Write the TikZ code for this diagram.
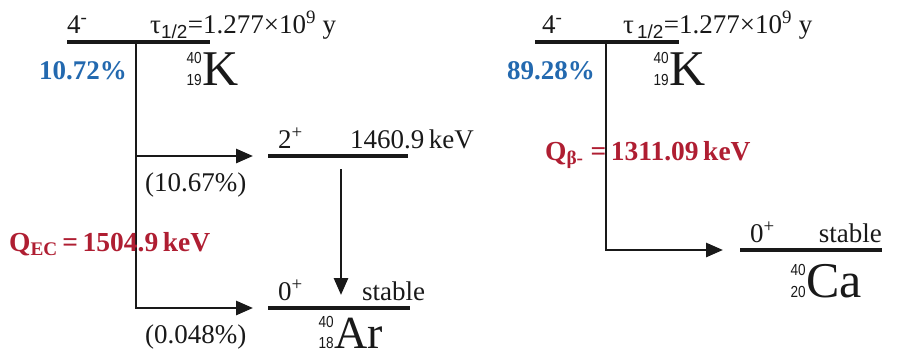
\documentclass[tikz,border=0pt]{standalone}
\usepackage{fontspec}
\setmainfont{Liberation Serif}
\setsansfont{Liberation Sans}
\usetikzlibrary{arrows.meta}
\definecolor{ink}{RGB}{25,25,25}
\definecolor{qblue}{RGB}{35,105,175}
\definecolor{qred}{RGB}{175,30,50}
\newcommand\nz[1]{\scalebox{0.85}[1]{#1}}
\begin{document}
\begin{tikzpicture}[x=1pt,y=-1pt,
 txt/.style={inner sep=0pt, text=ink, font=\fontsize{27}{30}\selectfont},
 lvl/.style={line width=3.2pt, draw=ink},
 arr/.style={line width=2.8pt, draw=ink, -{Triangle[length=17pt,width=14pt]}},
 nuc/.style={inner sep=0pt, text depth=0pt, text=ink, font=\fontsize{50}{54}\selectfont},
 zn/.style={inner sep=0pt, text=ink, font=\sffamily\fontsize{16}{17}\selectfont},
 pct/.style={inner sep=0pt, text=qblue, font=\bfseries\fontsize{27}{30}\selectfont},
 qv/.style={inner sep=0pt, text=qred, font=\bfseries\fontsize{27.5}{30}\selectfont}]
\useasboundingbox (0,0) rectangle (898,359);
% ---------- left: EC branch ----------
\coordinate (kLa) at (67,42);
\coordinate (kLb) at (210,42);
\coordinate (kLv) at (136,42);
\coordinate (bL1) at (136,156);
\coordinate (eL1) at (253,156);
\coordinate (eL2) at (253,308);
\coordinate (l2a) at (268,156);
\coordinate (l2b) at (408,156);
\coordinate (l0a) at (268,308);
\coordinate (l0b) at (410,308);
\coordinate (g1) at (341,169);
\coordinate (g2) at (341,295);
\draw[lvl] (kLa) -- (kLb);
\draw[lvl] (l2a) -- (l2b);
\draw[lvl] (l0a) -- (l0b);
\draw[arr] (kLv) |- (eL2);
\draw[arr] (bL1) -- (eL1);
\draw[arr] (g1) -- (g2);
\node[txt, anchor=base west] (jL) at (67,33) {4\textsuperscript{-}};
\node[txt, anchor=base west] (tL) at (150,33) {τ\textsubscript{\sffamily 1/2}=1.277×10\textsuperscript{9} y};
\node[pct, anchor=base east] (pL) at (127,79) {10.72\%};
\node[zn, anchor=base east] (kLA) at (202,63) {\nz{40}};
\node[zn, anchor=base east] (kLZ) at (202,85) {\nz{19}};
\node[nuc, anchor=base west] (kL) at (202,85) {K};
\node[txt, anchor=base west] (j2) at (278,148) {2\textsuperscript{+}};
\node[txt, anchor=base west] (e2) at (350,148) {1460.9\,keV};
\node[txt, anchor=base west] (p1) at (145,191) {(10.67\%)};
\node[txt, anchor=base west] (j0) at (278,300) {0\textsuperscript{+}};
\node[txt, anchor=base west] (s0) at (362,300) {stable};
\node[txt, anchor=base west] (p2) at (145,343) {(0.048\%)};
\node[zn, anchor=base east] (arA) at (334,327) {\nz{40}};
\node[zn, anchor=base east] (arZ) at (334,348) {\nz{18}};
\node[nuc, anchor=base west, font=\fontsize{46}{50}\selectfont] (ar) at (334,348) {Ar};
\node[qv, anchor=base west] (qec) at (9,251) {Q\textsubscript{EC}\,=\,1504.9\,keV};
% ---------- right: beta- branch ----------
\coordinate (kRa) at (535,42);
\coordinate (kRb) at (679,42);
\coordinate (kRv) at (606,42);
\coordinate (eR) at (723,250);
\coordinate (caa) at (740,250);
\coordinate (cab) at (882,250);
\draw[lvl] (kRa) -- (kRb);
\draw[lvl] (caa) -- (cab);
\draw[arr] (kRv) |- (eR);
\node[txt, anchor=base west] (jR) at (542,33) {4\textsuperscript{-}};
\node[txt, anchor=base west] (tR) at (623,33) {τ\textsubscript{\sffamily\,1/2}=1.277×10\textsuperscript{9} y};
\node[pct, anchor=base east] (pR) at (595,79) {89.28\%};
\node[zn, anchor=base east] (kRA) at (669,63) {\nz{40}};
\node[zn, anchor=base east] (kRZ) at (669,85) {\nz{19}};
\node[nuc, anchor=base west] (kR) at (669,85) {K};
\node[qv, anchor=base west] (qb) at (545,160) {Q\textsubscript{β-} =\,1311.09\,keV};
\node[txt, anchor=base west] (jc) at (750,242) {0\textsuperscript{+}};
\node[txt, anchor=base east] (sc) at (882,242) {stable};
\node[zn, anchor=base east] (caA) at (806,275) {\nz{40}};
\node[zn, anchor=base east] (caZ) at (806,297) {\nz{20}};
\node[nuc, anchor=base west] (ca) at (806,297) {Ca};
\end{tikzpicture}
\end{document}
